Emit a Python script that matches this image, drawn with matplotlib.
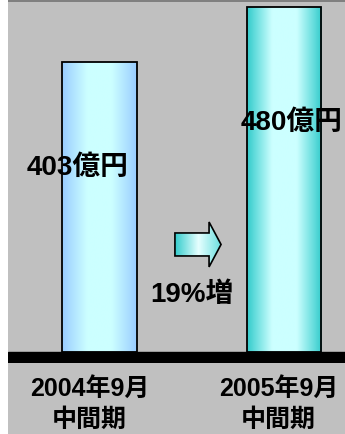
import matplotlib

matplotlib.use("Agg")
import matplotlib.pyplot as plt
import numpy as np
from matplotlib.colors import LinearSegmentedColormap
from matplotlib.patches import FancyArrow, Rectangle

plt.rcParams["font.family"] = ["Liberation Sans", "Noto Sans CJK JP", "DejaVu Sans"]
plt.rcParams["font.weight"] = "bold"

periods = ["2004年9月\n中間期", "2005年9月\n中間期"]
sales = [403, 480]
value_labels = ["403億円", "480億円"]
growth_label = "19%増"

bar_maps = [
    LinearSegmentedColormap.from_list("b1", ["#99CCFF", "#CCFFFF", "#CCFFFF", "#99CCFF"]),
    LinearSegmentedColormap.from_list("b2", ["#33CCCC", "#CCFFFF", "#CCFFFF", "#33CCCC"]),
]
arrow_map = LinearSegmentedColormap.from_list("a", ["#33CCCC", "#E6FFFF", "#66DDDD"])

W, H = 345, 434
fig = plt.figure(figsize=(W / 100, H / 100), dpi=100, facecolor="white")
# gray panel with a thin darker top line (behind the axes)
fig.patches.append(Rectangle((8 / W, 0), 1, 1, transform=fig.transFigure,
                             facecolor="#C0C0C0", edgecolor="none", zorder=-2))
fig.patches.append(Rectangle((8 / W, 1 - 1.5 / H), 1, 1.5 / H, transform=fig.transFigure,
                             facecolor="#808080", edgecolor="none", zorder=-1))

ax = fig.add_axes([8 / W, (H - 363) / H, (W - 8) / W, 362 / H])
ax.set_facecolor("none")
ax.set_xlim(-0.496, 1.331)
ax.set_ylim(-15.3, 488.3)
ax.axis("off")

x = np.arange(len(sales))
bars = ax.bar(x, sales, width=0.406, facecolor="none", edgecolor="black", linewidth=1.3, zorder=3)
grad = np.linspace(0, 1, 256).reshape(1, -1)
for bar, cmap in zip(bars, bar_maps):
    x0, w, h = bar.get_x(), bar.get_width(), bar.get_height()
    im = ax.imshow(grad, cmap=cmap, aspect="auto", extent=(x0, x0 + w, 0, h), zorder=2)
    im.set_clip_path(bar)

# base line
ax.axhspan(-15.3, 0, color="black", zorder=4)

# value labels
ax.text(x[0] - 0.12, 256, value_labels[0], ha="center", va="center", fontsize=20, zorder=5)
ax.text(x[1] + 0.04, 318, value_labels[1], ha="center", va="center", fontsize=20, zorder=5)

# growth arrow
arrow = FancyArrow(0.409, 149.6, 0.25, 0, width=32, head_width=62.5, head_length=0.065,
                   length_includes_head=True, facecolor="none", edgecolor="black", linewidth=1.2, zorder=3)
ax.add_patch(arrow)
im = ax.imshow(grad, cmap=arrow_map, aspect="auto", extent=(0.409, 0.659, 118, 181), zorder=2)
im.set_clip_path(arrow)
ax.text(0.5, 79, growth_label, ha="center", va="center", fontsize=20, zorder=5)

# period labels
for xi, label, dx in zip(x, periods, [-0.055, -0.03]):
    ax.text(xi + dx, -73, label, ha="center", va="center", fontsize=18, linespacing=1.4, clip_on=False)

fig.savefig("out.png", dpi=100, facecolor=fig.get_facecolor())
